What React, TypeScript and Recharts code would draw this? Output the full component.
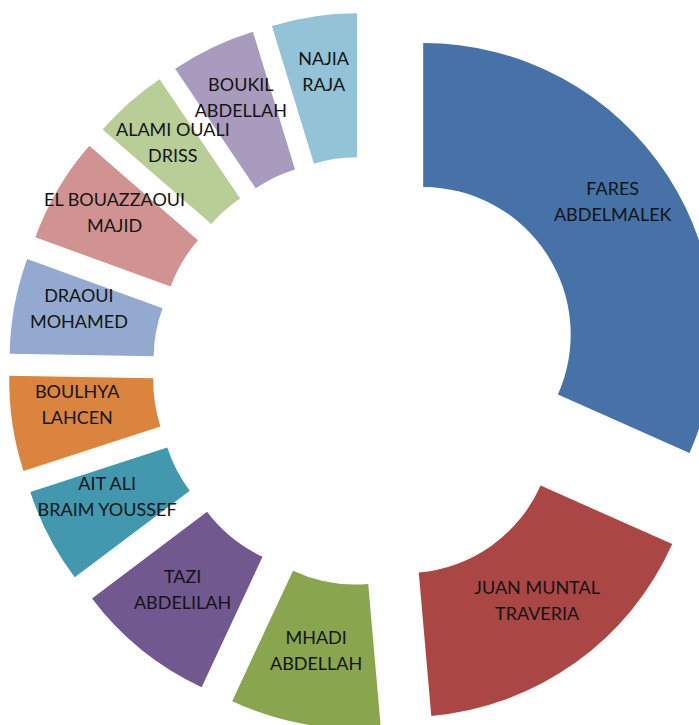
import React from 'react';
import { PieChart, Pie, Cell, Sector } from 'recharts';

const names = [
  'FARES ABDELMALEK',
  'JUAN MUNTAL TRAVERIA',
  'MHADI ABDELLAH',
  'TAZI ABDELILAH',
  'AIT ALI BRAIM YOUSSEF',
  'BOULHYA LAHCEN',
  'DRAOUI MOHAMED',
  'EL BOUAZZAOUI MAJID',
  'ALAMI OUALI DRISS',
  'BOUKIL ABDELLAH',
  'NAJIA RAJA',
];
const values = [114, 61, 30, 28, 19, 19, 19, 21, 15, 17, 17];
const labelLine1 = ['FARES', 'JUAN MUNTAL', 'MHADI', 'TAZI', 'AIT ALI', 'BOULHYA', 'DRAOUI', 'EL BOUAZZAOUI', 'ALAMI OUALI', 'BOUKIL', 'NAJIA'];
const labelLine2 = ['ABDELMALEK', 'TRAVERIA', 'ABDELLAH', 'ABDELILAH', 'BRAIM YOUSSEF', 'LAHCEN', 'MOHAMED', 'MAJID', 'DRISS', 'ABDELLAH', 'RAJA'];
const colors = ['#4672A8', '#AA4644', '#89A54E', '#71588F', '#4198AF', '#DB843D', '#93A9CF', '#D19392', '#B9CD96', '#A99BBD', '#92C3D6'];

const data = names.map((name, i) => ({ name, value: values[i] }));

const RADIAN = Math.PI / 180;
const EXPLODE = 67;
const LABEL_R = 226;

const ExplodedSector = (props: any) => {
  const { cx, cy, midAngle, innerRadius, outerRadius, startAngle, endAngle, fill } = props;
  const dx = EXPLODE * Math.cos(-midAngle * RADIAN);
  const dy = EXPLODE * Math.sin(-midAngle * RADIAN);
  return (
    <Sector
      cx={cx + dx}
      cy={cy + dy}
      innerRadius={innerRadius}
      outerRadius={outerRadius}
      startAngle={startAngle}
      endAngle={endAngle}
      fill={fill}
      stroke="none"
    />
  );
};

const renderLabel = (props: any) => {
  const { cx, cy, midAngle, index } = props;
  const r = EXPLODE + LABEL_R;
  const x = cx + r * Math.cos(-midAngle * RADIAN);
  const y = cy + r * Math.sin(-midAngle * RADIAN);
  return (
    <text
      x={x}
      y={y}
      textAnchor="middle"
      fontFamily="Lato, 'Open Sans', sans-serif"
      fontSize={18}
      fill="#141414"
    >
      <tspan x={x} dy={-16}>{labelLine1[index]}</tspan>
      <tspan x={x} dy={26}>{labelLine2[index]}</tspan>
    </text>
  );
};

export default function App() {
  return (
    <div style={{ position: 'absolute', left: 0, top: 0, width: 699, height: 725, background: '#ffffff', overflow: 'hidden' }}>
      <PieChart width={699} height={725} margin={{ top: 0, right: 0, bottom: 0, left: 0 }}>
        <Pie
          data={data}
          dataKey="value"
          nameKey="name"
          cx={367}
          cy={371}
          innerRadius={147.5}
          outerRadius={291.5}
          startAngle={90}
          endAngle={-270}
          stroke="none"
          isAnimationActive={false}
          shape={ExplodedSector}
          activeShape={ExplodedSector}
          inactiveShape={ExplodedSector}
          label={renderLabel}
          labelLine={false}
        >
          {data.map((d, i) => (
            <Cell key={d.name} fill={colors[i]} />
          ))}
        </Pie>
      </PieChart>
    </div>
  );
}
